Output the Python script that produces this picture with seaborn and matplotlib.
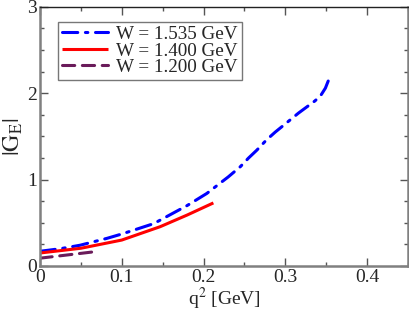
import numpy as np
import pandas as pd
import seaborn as sns
import matplotlib
matplotlib.use("Agg")
import matplotlib.pyplot as plt
from matplotlib.ticker import MultipleLocator

# Data
q2_1535 = [0.0, 0.025, 0.049, 0.082, 0.10, 0.139, 0.18, 0.204, 0.219, 0.230, 0.245, 0.255,
           0.265, 0.277, 0.2876, 0.298, 0.316, 0.326, 0.336, 0.343, 0.349, 0.354]
ge_1535 = [0.17, 0.20, 0.24, 0.32, 0.37, 0.49, 0.70, 0.84, 0.95, 1.03, 1.15, 1.25,
           1.34, 1.46, 1.55, 1.63, 1.77, 1.84, 1.91, 1.97, 2.06, 2.18]
q2_1400 = [0.0, 0.05, 0.10, 0.147, 0.18, 0.212]
ge_1400 = [0.15, 0.205, 0.30, 0.455, 0.59, 0.73]
q2_1200 = [0.0, 0.067]
ge_1200 = [0.09, 0.165]
labels = ["W = 1.535 GeV", "W = 1.400 GeV", "W = 1.200 GeV"]

df = pd.concat([
    pd.DataFrame({"q2": q2_1535, "ge": ge_1535, "W": labels[0]}),
    pd.DataFrame({"q2": q2_1400, "ge": ge_1400, "W": labels[1]}),
    pd.DataFrame({"q2": q2_1200, "ge": ge_1200, "W": labels[2]}),
])

sns.set_style("ticks")
plt.rcParams["font.family"] = ["Liberation Serif", "DejaVu Serif"]
plt.rcParams["mathtext.fontset"] = "stix"

fig = plt.figure(figsize=(4.09, 3.14), dpi=100)
ax = fig.add_axes([0.0978, 0.153, 0.8998, 0.825])

palette = {labels[0]: "#0000ff", labels[1]: "#ff0000", labels[2]: "#6a1b5a"}
dashes = {labels[0]: (5, 2.5, 0.8, 2.5), labels[1]: "", labels[2]: (4, 2.5)}
sns.lineplot(data=df, x="q2", y="ge", hue="W", style="W", hue_order=labels,
             style_order=labels, palette=palette, dashes=dashes, sort=False,
             estimator=None, linewidth=2.2, ax=ax)
for ln in ax.lines:
    ln.set_solid_capstyle("butt")
    ln.set_dash_capstyle("round")

ax.set_xlim(0, 0.45)
ax.set_ylim(0, 3)
ax.xaxis.set_major_locator(MultipleLocator(0.1))
ax.xaxis.set_minor_locator(MultipleLocator(0.05))
ax.yaxis.set_major_locator(MultipleLocator(1))
ax.yaxis.set_minor_locator(MultipleLocator(0.25))
ax.set_xticks([0, 0.1, 0.2, 0.3, 0.4])
ax.set_xticklabels(["0", "0.1", "0.2", "0.3", "0.4"])
ax.set_yticks([0, 1, 2, 3])
ax.set_yticklabels(["0", "1", "2", "3"])
ax.tick_params(which="both", direction="in", top=True, right=True, labelsize=14,
               color="#555555", pad=2)
ax.tick_params(which="major", length=6, width=1)
ax.tick_params(which="minor", length=3, width=1)
for s in ax.spines.values():
    s.set_color("#808080")
    s.set_linewidth(1.8)
ax.spines["top"].set_color("#222222")
ax.spines["top"].set_linewidth(1.0)

ax.set_xlabel(r"q$^2$ [GeV]", fontsize=14, labelpad=0)
ax.set_ylabel(r"$|\mathrm{G}_{\mathrm{E}}|$", fontsize=17, labelpad=2)

leg = ax.legend(loc="upper left", bbox_to_anchor=(0.049, 0.942), fontsize=13.8,
                handlelength=2.4, handletextpad=0.45, labelspacing=-0.05,
                borderpad=0.2, frameon=True, fancybox=False, borderaxespad=0)
leg.get_frame().set_edgecolor("#555555")
leg.get_frame().set_linewidth(1.0)
leg.set_title(None)

fig.savefig("out.png", dpi=100)
